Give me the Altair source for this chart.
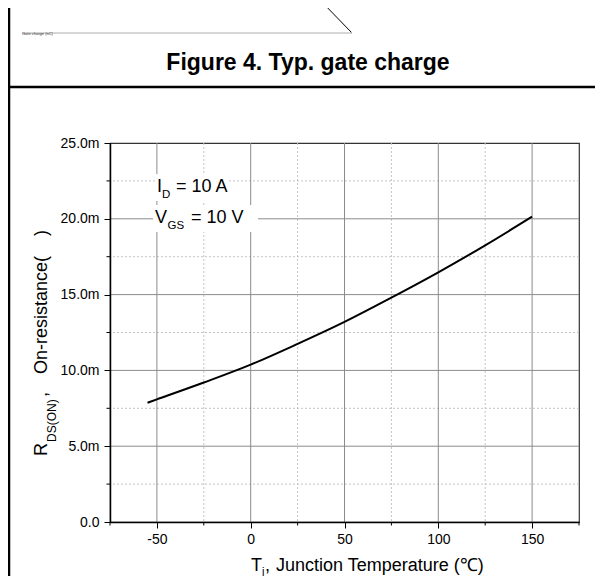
import altair as alt
import pandas as pd

# ---- data ----
temps = [-55, -50, -25, 0, 25, 50, 75, 100, 125, 150]
rds_mohm = [7.87, 8.09, 9.20, 10.38, 11.75, 13.20, 14.80, 16.47, 18.25, 20.14]

x_major = [-50, 0, 50, 100, 150]
x_minor = [-75, -25, 25, 75, 125, 175]
x_minor_grid = [-25, 25, 75, 125]
y_major_m = [0, 5, 10, 15, 20, 25]
y_minor_m = [2.5, 7.5, 12.5, 17.5, 22.5]
y_grid_major_m = [5, 10, 15, 20]

FONT = "Liberation Sans"
X0, Y0 = 110, 143          # page position of plot origin
W, H = 469, 379


def px(x):
    return x - X0


def py(y):
    return y - Y0


curve = pd.DataFrame({"T": temps, "R": [v / 1000 for v in rds_mohm]})

xs = alt.Scale(domain=[-75, 175], nice=False, zero=False)
ys = alt.Scale(domain=[0, 0.025], nice=False, zero=False)

AX_X = alt.Axis(
    values=x_major, title=None, grid=False, tickSize=6, tickColor="black",
    domainColor="black", domainWidth=1.5, tickWidth=1, labelFont=FONT,
    labelFontSize=14, labelColor="black", labelPadding=4, zindex=1,
    labelExpr="datum.value < 0 ? '-' + abs(datum.value) : '' + datum.value")
AX_Y = alt.Axis(
    values=[v / 1000 for v in y_major_m], title=None, grid=False, tickSize=6,
    tickColor="black", domainColor="black", domainWidth=1.5, tickWidth=1,
    labelFont=FONT, labelFontSize=14, labelColor="black", labelPadding=5,
    labelExpr="datum.value == 0 ? '0.0' : format(datum.value * 1000, '.1f') + 'm'",
    zindex=1)


def vrules(vals, **style):
    return alt.Chart(pd.DataFrame({"v": vals})).mark_rule(**style).encode(
        x=alt.X("v:Q", scale=xs, axis=AX_X))


def hrules(vals, **style):
    return alt.Chart(pd.DataFrame({"v": [v / 1000 for v in vals]})).mark_rule(**style).encode(
        y=alt.Y("v:Q", scale=ys, axis=AX_Y))


def txt(s, x, y, size, angle=0, weight="normal", align="left", color="black"):
    return alt.Chart(pd.DataFrame({"s": [s]})).mark_text(
        align=align, baseline="alphabetic", font=FONT, fontSize=size,
        angle=angle, fontWeight=weight, color=color).encode(
        x=alt.value(x), y=alt.value(y), text="s:N")


def seg(x1, y1, x2, y2, color="black", width=1.0):
    return alt.Chart(pd.DataFrame({"a": [0]})).mark_rule(
        color=color, strokeWidth=width).encode(
        x=alt.value(x1), y=alt.value(y1), x2=alt.value(x2), y2=alt.value(y2))


def box(x1, y1, x2, y2):
    return alt.Chart(pd.DataFrame({"a": [0]})).mark_rect(color="white").encode(
        x=alt.value(x1), y=alt.value(y1), x2=alt.value(x2), y2=alt.value(y2))


grid_major_x = vrules(x_major, color="#8c8c8c", strokeWidth=1)
grid_minor_x = vrules(x_minor_grid, color="#c4c4c4", strokeWidth=1, strokeDash=[2, 2])
grid_major_y = hrules(y_grid_major_m, color="#8c8c8c", strokeWidth=1)
grid_minor_y = hrules(y_minor_m, color="#c4c4c4", strokeWidth=1, strokeDash=[2, 2])

# minor ticks
minor_tx = alt.Chart(pd.DataFrame({"v": x_minor})).mark_rule(color="black").encode(
    x=alt.X("v:Q", scale=xs, axis=AX_X), y=alt.value(H), y2=alt.value(H + 3.5))
minor_ty = alt.Chart(pd.DataFrame({"v": [v / 1000 for v in y_minor_m]})).mark_rule(color="black").encode(
    y=alt.Y("v:Q", scale=ys, axis=AX_Y), x=alt.value(-3.5), x2=alt.value(0))

line = alt.Chart(curve).mark_line(color="black", strokeWidth=2, interpolate="monotone").encode(
    x=alt.X("T:Q", scale=xs, axis=AX_X),
    y=alt.Y("R:Q", scale=ys, axis=AX_Y),
)

# annotation (each line on its own white backing)
ann = [
    box(px(155), py(174), px(229), py(201)),
    box(px(153), py(205), px(258), py(232)),
    txt("I", px(157), py(192), 18),
    txt("D", px(162), py(198), 11.5),
    txt("= 10 A", px(176), py(192), 18),
    txt("V", px(155), py(223), 18),
    txt("GS", px(167.5), py(229), 11.5),
    txt("= 10 V", px(191), py(223), 18),
]

# axis titles
ytitle = [
    txt("R", px(47), py(456), 18, angle=270),
    txt("DS(ON)", px(56), py(442), 12, angle=270),
    txt(",", px(47), py(397), 18, angle=270),
    txt("On-resistance(", px(47), py(374), 18, angle=270),
    txt(")", px(47), py(236), 18, angle=270),
]
xtitle = [
    txt("T", px(251), py(571), 18),
    txt("j", px(262), py(574.5), 11),
    txt(",", px(265), py(571), 18),
    txt("Junction Temperature (\u2103)", px(276), py(571), 18),
]

# page decoration above the plot
deco = [
    seg(px(0), py(87), px(603), py(87), width=2.5),
    seg(px(9), py(0), px(9), py(584), width=2.5),
    seg(px(320), py(0), px(352), py(33), width=1),
    seg(px(22), py(33), px(352), py(33), color="#c8c8c8", width=1.5),
    txt("Gate charge (nC)", px(22), py(34.5), 4, color="#333333"),
    txt("Figure 4. Typ. gate charge", px(308), py(70), 23, weight="bold", align="center"),
]

chart = alt.layer(
    grid_minor_x, grid_minor_y, grid_major_x, grid_major_y,
    *ann, line, minor_tx, minor_ty, *ytitle, *xtitle, *deco,
).properties(
    width=W, height=H,
    padding={"left": 102, "top": 135, "right": 16, "bottom": 54},
    autosize=alt.AutoSizeParams(type="none"),
).configure_view(stroke="#333333", strokeWidth=1.2)

chart.save("out.html", embed_options={"renderer": "svg", "actions": False})
